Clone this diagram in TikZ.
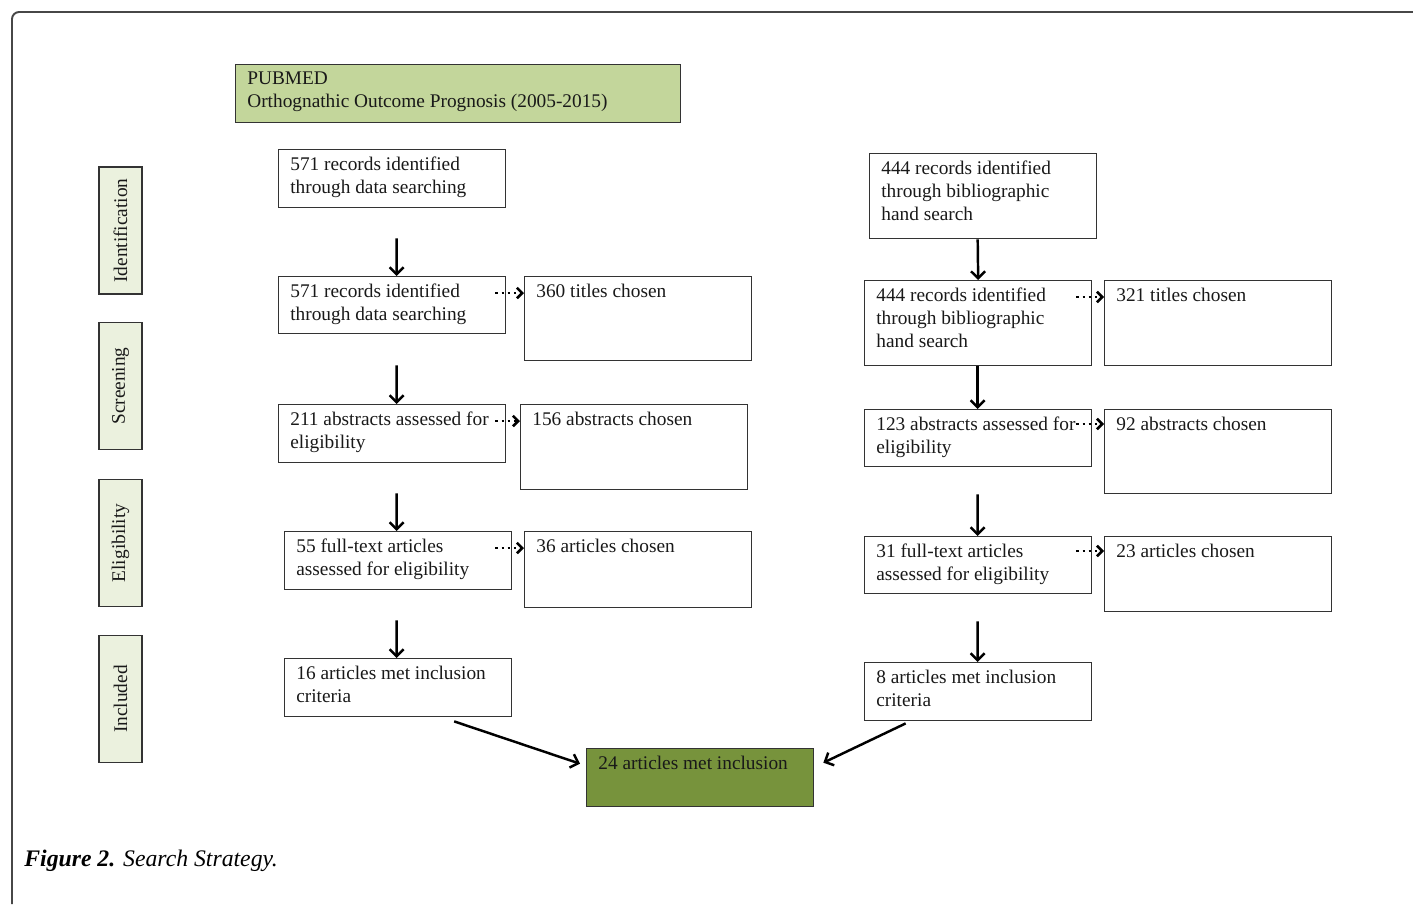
\documentclass[tikz,border=0pt]{standalone}
\usepackage{fontspec}
\setmainfont{Liberation Serif}
\usetikzlibrary{arrows.meta}

\definecolor{headGreen}{HTML}{C3D69B}
\definecolor{finalGreen}{HTML}{77933C}
\definecolor{phaseGreen}{HTML}{EBF1DE}
\definecolor{lineGrey}{HTML}{333333}

\tikzset{
  frameLine/.style={draw=lineGrey!90, line width=1.1pt, rounded corners=4pt},
  stageBox/.style={draw=lineGrey, line width=0.8pt, anchor=north west, inner sep=0pt, minimum width=4.54cm},
  stageText/.style={anchor=north west, inner sep=0pt, align=left, text=black!90,
    font=\fontsize{11}{13}\selectfont, xshift=0.24cm, yshift=-0.15cm},
  phaseBox/.style={draw=lineGrey, line width=0.8pt, fill=phaseGreen, rotate=90, inner sep=0pt,
    minimum width=2.54cm, minimum height=0.86cm, text=black!90, font=\fontsize{11}{13}\selectfont},
  flowArrow/.style={-{Straight Barb[length=4pt, width=8pt]}, line width=1.4pt},
  sideArrow/.style={-{Straight Barb[length=3pt, width=6pt]}, line width=1.5pt, dash pattern=on 1.5pt off 2pt}
}

\begin{document}
\begin{tikzpicture}[x=0.02cm, y=-0.02cm]
\useasboundingbox (0,0) rectangle (1413,904);
\draw[frameLine] (12,904) -- (12,12) -- (1413,12);

\node[stageBox, fill=headGreen, minimum width=8.9cm, minimum height=1.16cm] (pubmed) at (235,64) {};
\node[stageText] at (pubmed.north west) {PUBMED\\Orthognathic Outcome Prognosis (2005-2015)};

\node[phaseBox] (identification) at (120.5,230.5) {Identification};
\node[phaseBox] (screening) at (120.5,386) {Screening};
\node[phaseBox] (eligibility) at (120.5,543) {Eligibility};
\node[phaseBox] (included) at (120.5,699) {Included};

\node[stageBox, minimum height=1.16cm] (dataRecords) at (278,149) {};
\node[stageText] at (dataRecords.north west) {571 records identified\\through data searching};
\node[stageBox, minimum height=1.14cm] (dataScreen) at (278,276) {};
\node[stageText] at (dataScreen.north west) {571 records identified\\through data searching};
\node[stageBox, minimum height=1.68cm] (dataTitles) at (524,276) {};
\node[stageText] at (dataTitles.north west) {360 titles chosen};
\node[stageBox, minimum height=1.16cm] (dataAbstracts) at (278,404) {};
\node[stageText] at (dataAbstracts.north west) {211 abstracts assessed for\\eligibility};
\node[stageBox, minimum height=1.7cm] (dataAbstractsChosen) at (520,404) {};
\node[stageText] at (dataAbstractsChosen.north west) {156 abstracts chosen};
\node[stageBox, minimum height=1.16cm] (dataFullText) at (284,531) {};
\node[stageText] at (dataFullText.north west) {55 full-text articles\\assessed for eligibility};
\node[stageBox, minimum height=1.52cm] (dataArticles) at (524,531) {};
\node[stageText] at (dataArticles.north west) {36 articles chosen};
\node[stageBox, minimum height=1.16cm] (dataIncluded) at (284,658) {};
\node[stageText] at (dataIncluded.north west) {16 articles met inclusion\\criteria};

\node[stageBox, minimum height=1.7cm] (handRecords) at (869,153) {};
\node[stageText] at (handRecords.north west) {444 records identified\\through bibliographic\\hand search};
\node[stageBox, minimum height=1.7cm] (handScreen) at (864,280) {};
\node[stageText] at (handScreen.north west) {444 records identified\\through bibliographic\\hand search};
\node[stageBox, minimum height=1.7cm] (handTitles) at (1104,280) {};
\node[stageText] at (handTitles.north west) {321 titles chosen};
\node[stageBox, minimum height=1.14cm] (handAbstracts) at (864,409) {};
\node[stageText] at (handAbstracts.north west) {123 abstracts assessed for\\eligibility};
\node[stageBox, minimum height=1.68cm] (handAbstractsChosen) at (1104,409) {};
\node[stageText] at (handAbstractsChosen.north west) {92 abstracts chosen};
\node[stageBox, minimum height=1.14cm] (handFullText) at (864,536) {};
\node[stageText] at (handFullText.north west) {31 full-text articles\\assessed for eligibility};
\node[stageBox, minimum height=1.5cm] (handArticles) at (1104,536) {};
\node[stageText] at (handArticles.north west) {23 articles chosen};
\node[stageBox, minimum height=1.16cm] (handIncluded) at (864,662) {};
\node[stageText] at (handIncluded.north west) {8 articles met inclusion\\criteria};

\node[stageBox, fill=finalGreen, minimum height=1.16cm] (totalIncluded) at (586,748) {};
\node[stageText] at (totalIncluded.north west) {24 articles met inclusion};

\draw[flowArrow] ([shift={(4.5,30)}]dataRecords.south) -- ([xshift=0.09cm]dataScreen.north);
\draw[flowArrow] ([shift={(4.5,31)}]dataScreen.south) -- ([xshift=0.09cm]dataAbstracts.north);
\draw[flowArrow] ([shift={(4.5,30)}]dataAbstracts.south) -- ([xshift=-0.03cm]dataFullText.north);
\draw[flowArrow] ([shift={(-1.5,30)}]dataFullText.south) -- ([xshift=-0.03cm]dataIncluded.north);

\draw[flowArrow] ([xshift=-0.11cm]handRecords.south) -- (handScreen.north);
\draw[flowArrow] ([xshift=-0.01cm]handScreen.south) -- ([xshift=-0.01cm]handAbstracts.north);
\draw[flowArrow] ([shift={(-0.5,27)}]handAbstracts.south) -- ([xshift=-0.01cm]handFullText.north);
\draw[flowArrow] ([shift={(-0.5,27)}]handFullText.south) -- ([xshift=-0.01cm]handIncluded.north);

\draw[sideArrow] ([shift={(-11,17)}]dataScreen.north east) -- ([shift={(0,17)}]dataTitles.north west);
\draw[sideArrow] ([shift={(-11,17)}]dataAbstracts.north east) -- ([shift={(0,17)}]dataAbstractsChosen.north west);
\draw[sideArrow] ([shift={(-17,17)}]dataFullText.north east) -- ([shift={(0,17)}]dataArticles.north west);
\draw[sideArrow] ([shift={(-16,17)}]handScreen.north east) -- ([shift={(0,17)}]handTitles.north west);
\draw[sideArrow] ([shift={(-16,15)}]handAbstracts.north east) -- ([shift={(0,15)}]handAbstractsChosen.north west);
\draw[sideArrow] ([shift={(-16,15)}]handFullText.north east) -- ([shift={(0,15)}]handArticles.north west);

\draw[flowArrow] ([shift={(56,4)}]dataIncluded.south) -- ([shift={(-6,-14)}]totalIncluded.west);
\draw[flowArrow] ([shift={(-72.5,2)}]handIncluded.south) -- ([shift={(9,-15)}]totalIncluded.east);

\node[anchor=base west, inner sep=0pt, font=\fontsize{13.5}{16}\selectfont\itshape] (caption) at (24,866) {\textbf{Figure 2.} Search Strategy.};
\end{tikzpicture}
\end{document}
